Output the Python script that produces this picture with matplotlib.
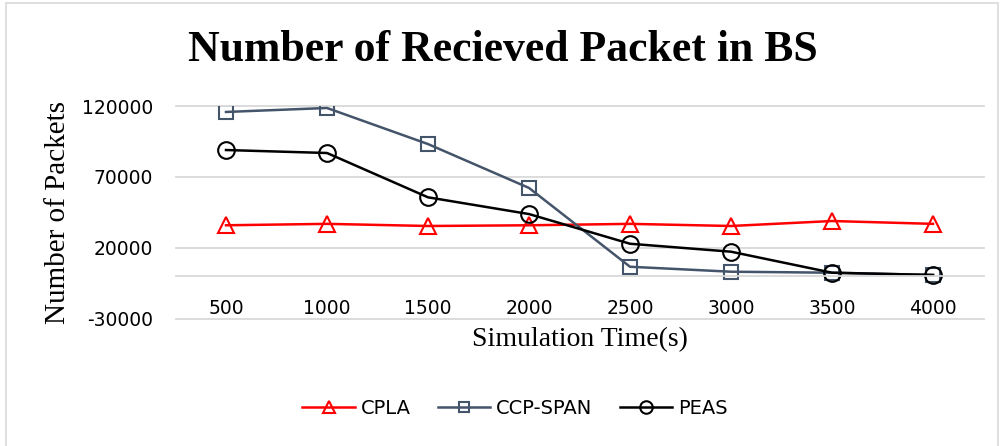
import numpy as np
import matplotlib
matplotlib.use("Agg")
import matplotlib.pyplot as plt
import matplotlib.patches as patches

# data
times = ["500", "1000", "1500", "2000", "2500", "3000", "3500", "4000"]
cpla = [36000, 37000, 35500, 36000, 37000, 35500, 39000, 37000]
ccp_span = [115800, 118600, 93200, 62300, 6800, 3300, 2600, 1000]
peas = [89000, 86900, 55700, 43900, 23000, 17400, 2600, 1000]
yticks = [-30000, 20000, 70000, 120000]

fig = plt.figure(figsize=(10.01, 4.46), dpi=100, facecolor='white')
ax = fig.add_axes([175.5 / 1001, 1 - 319 / 446, 808 / 1001, 213 / 446])

x = np.arange(len(times))
ax.plot(x, cpla, color='#FF0000', lw=1.8, marker='^', ms=11, mfc='none', mec='#FF0000', mew=1.5, label='CPLA')
ax.plot(x, ccp_span, color='#44546A', lw=1.8, marker='s', ms=10, mfc='none', mec='#44546A', mew=1.5, label='CCP-SPAN')
ax.plot(x, peas, color='black', lw=1.8, marker='o', ms=12, mfc='none', mec='black', mew=1.5, label='PEAS')

ax.set_xlim(-0.5, len(times) - 0.5)
ax.set_ylim(-30000, 120000)
ax.set_yticks(yticks)
ax.set_yticklabels([str(v) for v in yticks])
ax.set_xticks(x)
ax.set_xticklabels(times)
ax.grid(axis='y', color='#d9d9d9', lw=1.3)
for gl in ax.get_ygridlines():
    gl.set_clip_on(False)
ax.set_axisbelow(True)

for s in ['top', 'right', 'left']:
    ax.spines[s].set_visible(False)
ax.spines['bottom'].set_position(('data', 0))
ax.spines['bottom'].set_color('#d9d9d9')
ax.spines['bottom'].set_linewidth(1.3)
ax.tick_params(axis='both', length=0, labelsize=13.5)
ax.tick_params(axis='x', pad=16)
ax.tick_params(axis='y', pad=16)

ax.set_ylabel('Number of Packets', fontsize=21, family='Liberation Serif', labelpad=8)
fig.text(580 / 1001, 1 - 340 / 446, 'Simulation Time(s)', fontsize=20, family='Liberation Serif',
         ha='center', va='center')
fig.text(503 / 1001, 1 - 50 / 446, 'Number of Recieved Packet in BS', fontsize=31.5,
         family='Liberation Serif', weight='bold', ha='center', va='center')

fig.legend(loc='center', bbox_to_anchor=(515 / 1001, 1 - 408 / 446), ncol=3, frameon=False,
           fontsize=14, handlelength=2.7, columnspacing=1.4, handletextpad=0.3, markerscale=0.75)

# chart border
rect = patches.Rectangle((6 / 1001, -0.01), (998 - 6) / 1001, 1 - 3 / 446 + 0.01, linewidth=1.2,
                         edgecolor='#d9d9d9', facecolor='none', transform=fig.transFigure)
fig.patches.append(rect)

fig.savefig('out.png', dpi=100, facecolor='white')
